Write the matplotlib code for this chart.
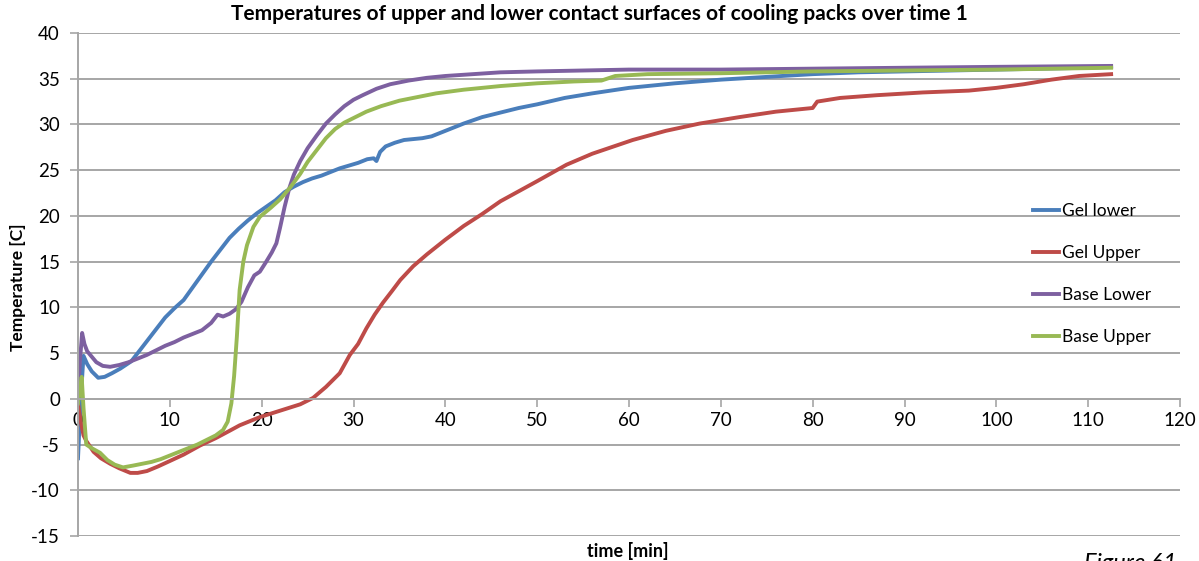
import matplotlib
matplotlib.use("Agg")
import matplotlib.pyplot as plt

plt.rcParams['font.family'] = ['Lato', 'DejaVu Sans']
plt.rcParams['axes.unicode_minus'] = False

# time [min] and temperature [C]
t_gel_lower = [0, 0.3, 0.6, 1.0, 1.5, 2.2, 2.9, 3.7, 4.6, 5.8, 6.5, 7.5, 8.5, 9.5, 10.5, 11.5, 12.5,
               13.5, 14.5, 15.5, 16.5, 17.5, 18.5, 19.5, 20.5, 21.5, 22.5, 23.5, 24.5, 25.5, 26.5,
               27.5, 28.5, 29.5, 30.5, 31.5, 32.2, 32.5, 32.9, 33.5, 34.5, 35.5, 36.5, 37.5, 38.5,
               40, 42, 44, 46, 48, 50, 53, 56, 60, 65, 70, 75, 80, 85, 90, 95, 100, 105, 110, 112.5]
gel_lower = [-6.5, 0, 4.7, 3.8, 3.0, 2.3, 2.4, 2.8, 3.3, 4.1, 5.0, 6.3, 7.6, 8.9, 9.9, 10.8, 12.2,
             13.6, 15.0, 16.3, 17.6, 18.6, 19.5, 20.3, 21.0, 21.7, 22.6, 23.2, 23.7, 24.1, 24.4,
             24.8, 25.2, 25.5, 25.8, 26.2, 26.3, 26.0, 27.0, 27.6, 28.0, 28.3, 28.4, 28.5, 28.7,
             29.3, 30.1, 30.8, 31.3, 31.8, 32.2, 32.9, 33.4, 34.0, 34.5, 34.9, 35.2, 35.5, 35.7,
             35.8, 35.9, 36.0, 36.1, 36.2, 36.3]

t_gel_upper = [0, 0.3, 0.6, 0.9, 1.7, 2.5, 3.5, 4.5, 5.7, 6.5, 7.5, 8.7, 10, 11.5, 13.3, 15, 16.5,
               17.6, 19.8, 22, 24.2, 25.6, 27, 28.5, 29.6, 30.5, 31.4, 32.3, 33.2, 34.2, 35.1,
               36.5, 38, 40, 42, 44, 46, 48, 50, 53.2, 56, 60.4, 64, 67.7, 72, 76, 80, 80.5, 83,
               87, 92, 97, 100, 103, 106, 109, 112.5]
gel_upper = [-0.5, -2.5, -4.0, -4.6, -5.8, -6.5, -7.1, -7.6, -8.1, -8.1, -7.9, -7.4, -6.8, -6.1,
             -5.1, -4.3, -3.5, -2.9, -2.0, -1.3, -0.6, 0.1, 1.3, 2.8, 4.8, 6.0, 7.7, 9.2, 10.5,
             11.8, 13.0, 14.5, 15.8, 17.4, 18.9, 20.2, 21.6, 22.7, 23.8, 25.6, 26.8, 28.3, 29.3,
             30.1, 30.8, 31.4, 31.8, 32.5, 32.9, 33.2, 33.5, 33.7, 34.0, 34.4, 34.9, 35.3, 35.5]

t_base_lower = [0, 0.2, 0.45, 0.7, 1.0, 1.5, 2.0, 2.7, 3.5, 4.5, 5.5, 6.5, 7.5, 8.5, 9.5, 10.5,
                11.5, 12.5, 13.5, 14.5, 15.2, 15.8, 16.5, 17.2, 17.8, 18.5, 19.2, 19.8, 20.5,
                21.1, 21.6, 22.0, 22.5, 23.0, 23.5, 24.2, 25.0, 26.0, 27.0, 28.0, 29.0, 30.0,
                31.0, 32.5, 34, 36, 38, 40, 43, 46, 50, 55, 60, 70, 80, 90, 100, 112.5]
base_lower = [0, 4.0, 7.2, 6.0, 5.2, 4.6, 4.0, 3.6, 3.5, 3.7, 4.0, 4.4, 4.8, 5.3, 5.8, 6.2, 6.7,
              7.1, 7.5, 8.3, 9.2, 9.0, 9.3, 9.8, 10.6, 12.2, 13.5, 13.9, 15.0, 16.0, 17.0, 18.7,
              21.0, 23.0, 24.5, 26.0, 27.4, 28.8, 30.1, 31.1, 32.0, 32.7, 33.2, 33.9, 34.4, 34.8,
              35.1, 35.3, 35.5, 35.7, 35.8, 35.9, 36.0, 36.0, 36.1, 36.2, 36.3, 36.4]

t_base_upper = [0, 0.2, 0.4, 0.6, 0.9, 1.5, 2.4, 3.2, 4.0, 4.9, 6.0, 7.0, 8.0, 9.0, 10.0, 11.0,
                12.0, 13.0, 14.0, 15.0, 15.8, 16.3, 16.7, 17.0, 17.3, 17.6, 18.0, 18.4, 19.1,
                19.8, 21.0, 22.0, 23.1, 24.2, 25.0, 26.0, 27.0, 28.0, 29.0, 30.0, 31.4, 33, 35,
                37, 39, 42, 46, 50, 54, 57, 58.5, 62, 70, 80, 90, 100, 112.5]
base_upper = [-0.5, 1.0, 2.4, -1.0, -5.0, -5.4, -5.9, -6.7, -7.2, -7.5, -7.3, -7.1, -6.9, -6.6,
              -6.2, -5.8, -5.4, -5.0, -4.5, -4.0, -3.4, -2.5, -0.5, 2.5, 6.8, 11.9, 15.0, 16.8,
              18.8, 19.9, 20.9, 21.8, 23.1, 24.6, 25.9, 27.2, 28.5, 29.5, 30.2, 30.7, 31.4, 32.0,
              32.6, 33.0, 33.4, 33.8, 34.2, 34.5, 34.7, 34.8, 35.3, 35.5, 35.6, 35.8, 35.9, 36.0,
              36.2]

fig = plt.figure(figsize=(11.99, 5.61), dpi=100)
ax = fig.add_axes([78 / 1199, 1 - 536 / 561, (1180 - 78) / 1199, (536 - 33) / 561])

grid_col = '#a6a6a6'
ax.plot(t_gel_lower, gel_lower, color='#4a7ebb', lw=2.8, label='Gel lower')
ax.plot(t_gel_upper, gel_upper, color='#be4b48', lw=2.8, label='Gel Upper')
ax.plot(t_base_lower, base_lower, color='#7d60a0', lw=2.8, label='Base Lower')
ax.plot(t_base_upper, base_upper, color='#98b954', lw=2.8, label='Base Upper')

ax.set_xlim(0, 120)
ax.set_ylim(-15, 40)
ax.set_xticks(range(0, 121, 10))
ax.set_yticks(range(-15, 41, 5))
ax.yaxis.grid(True, color=grid_col, lw=1.4)
ax.set_axisbelow(True)

for s in ['top', 'right']:
    ax.spines[s].set_visible(False)
ax.spines['left'].set_color(grid_col)
ax.spines['left'].set_linewidth(1.4)
ax.spines['bottom'].set_position(('data', 0))
ax.spines['bottom'].set_color(grid_col)
ax.spines['bottom'].set_linewidth(1.4)
ax.tick_params(axis='both', colors=grid_col, labelcolor='black', labelsize=13.5, length=6, width=1.2)
ax.tick_params(axis='y', pad=7)

fig.text(599 / 1199, 1 - 14 / 561, 'Temperatures of upper and lower contact surfaces of cooling packs over time 1',
         fontsize=15, fontweight='bold', ha='center', va='center')
fig.text(18 / 1199, 1 - 287 / 561, 'Temperature [C]', rotation=90, fontsize=12.5,
         fontweight='bold', ha='center', va='center')
fig.text(628 / 1199, 1 - 551 / 561, 'time [min]', fontsize=13, fontweight='bold',
         ha='center', va='center')
fig.text(1084 / 1199, 1 - 553 / 561, 'Figure 61', fontsize=17, style='italic',
         ha='left', va='top')

ax.legend(loc='upper left', bbox_to_anchor=(1017 / 1199, 1 - 187 / 561),
          bbox_transform=fig.transFigure, frameon=False, fontsize=12.5,
          handlelength=1.5, handletextpad=0.2, labelspacing=1.5)

fig.savefig('out.png', dpi=100)
